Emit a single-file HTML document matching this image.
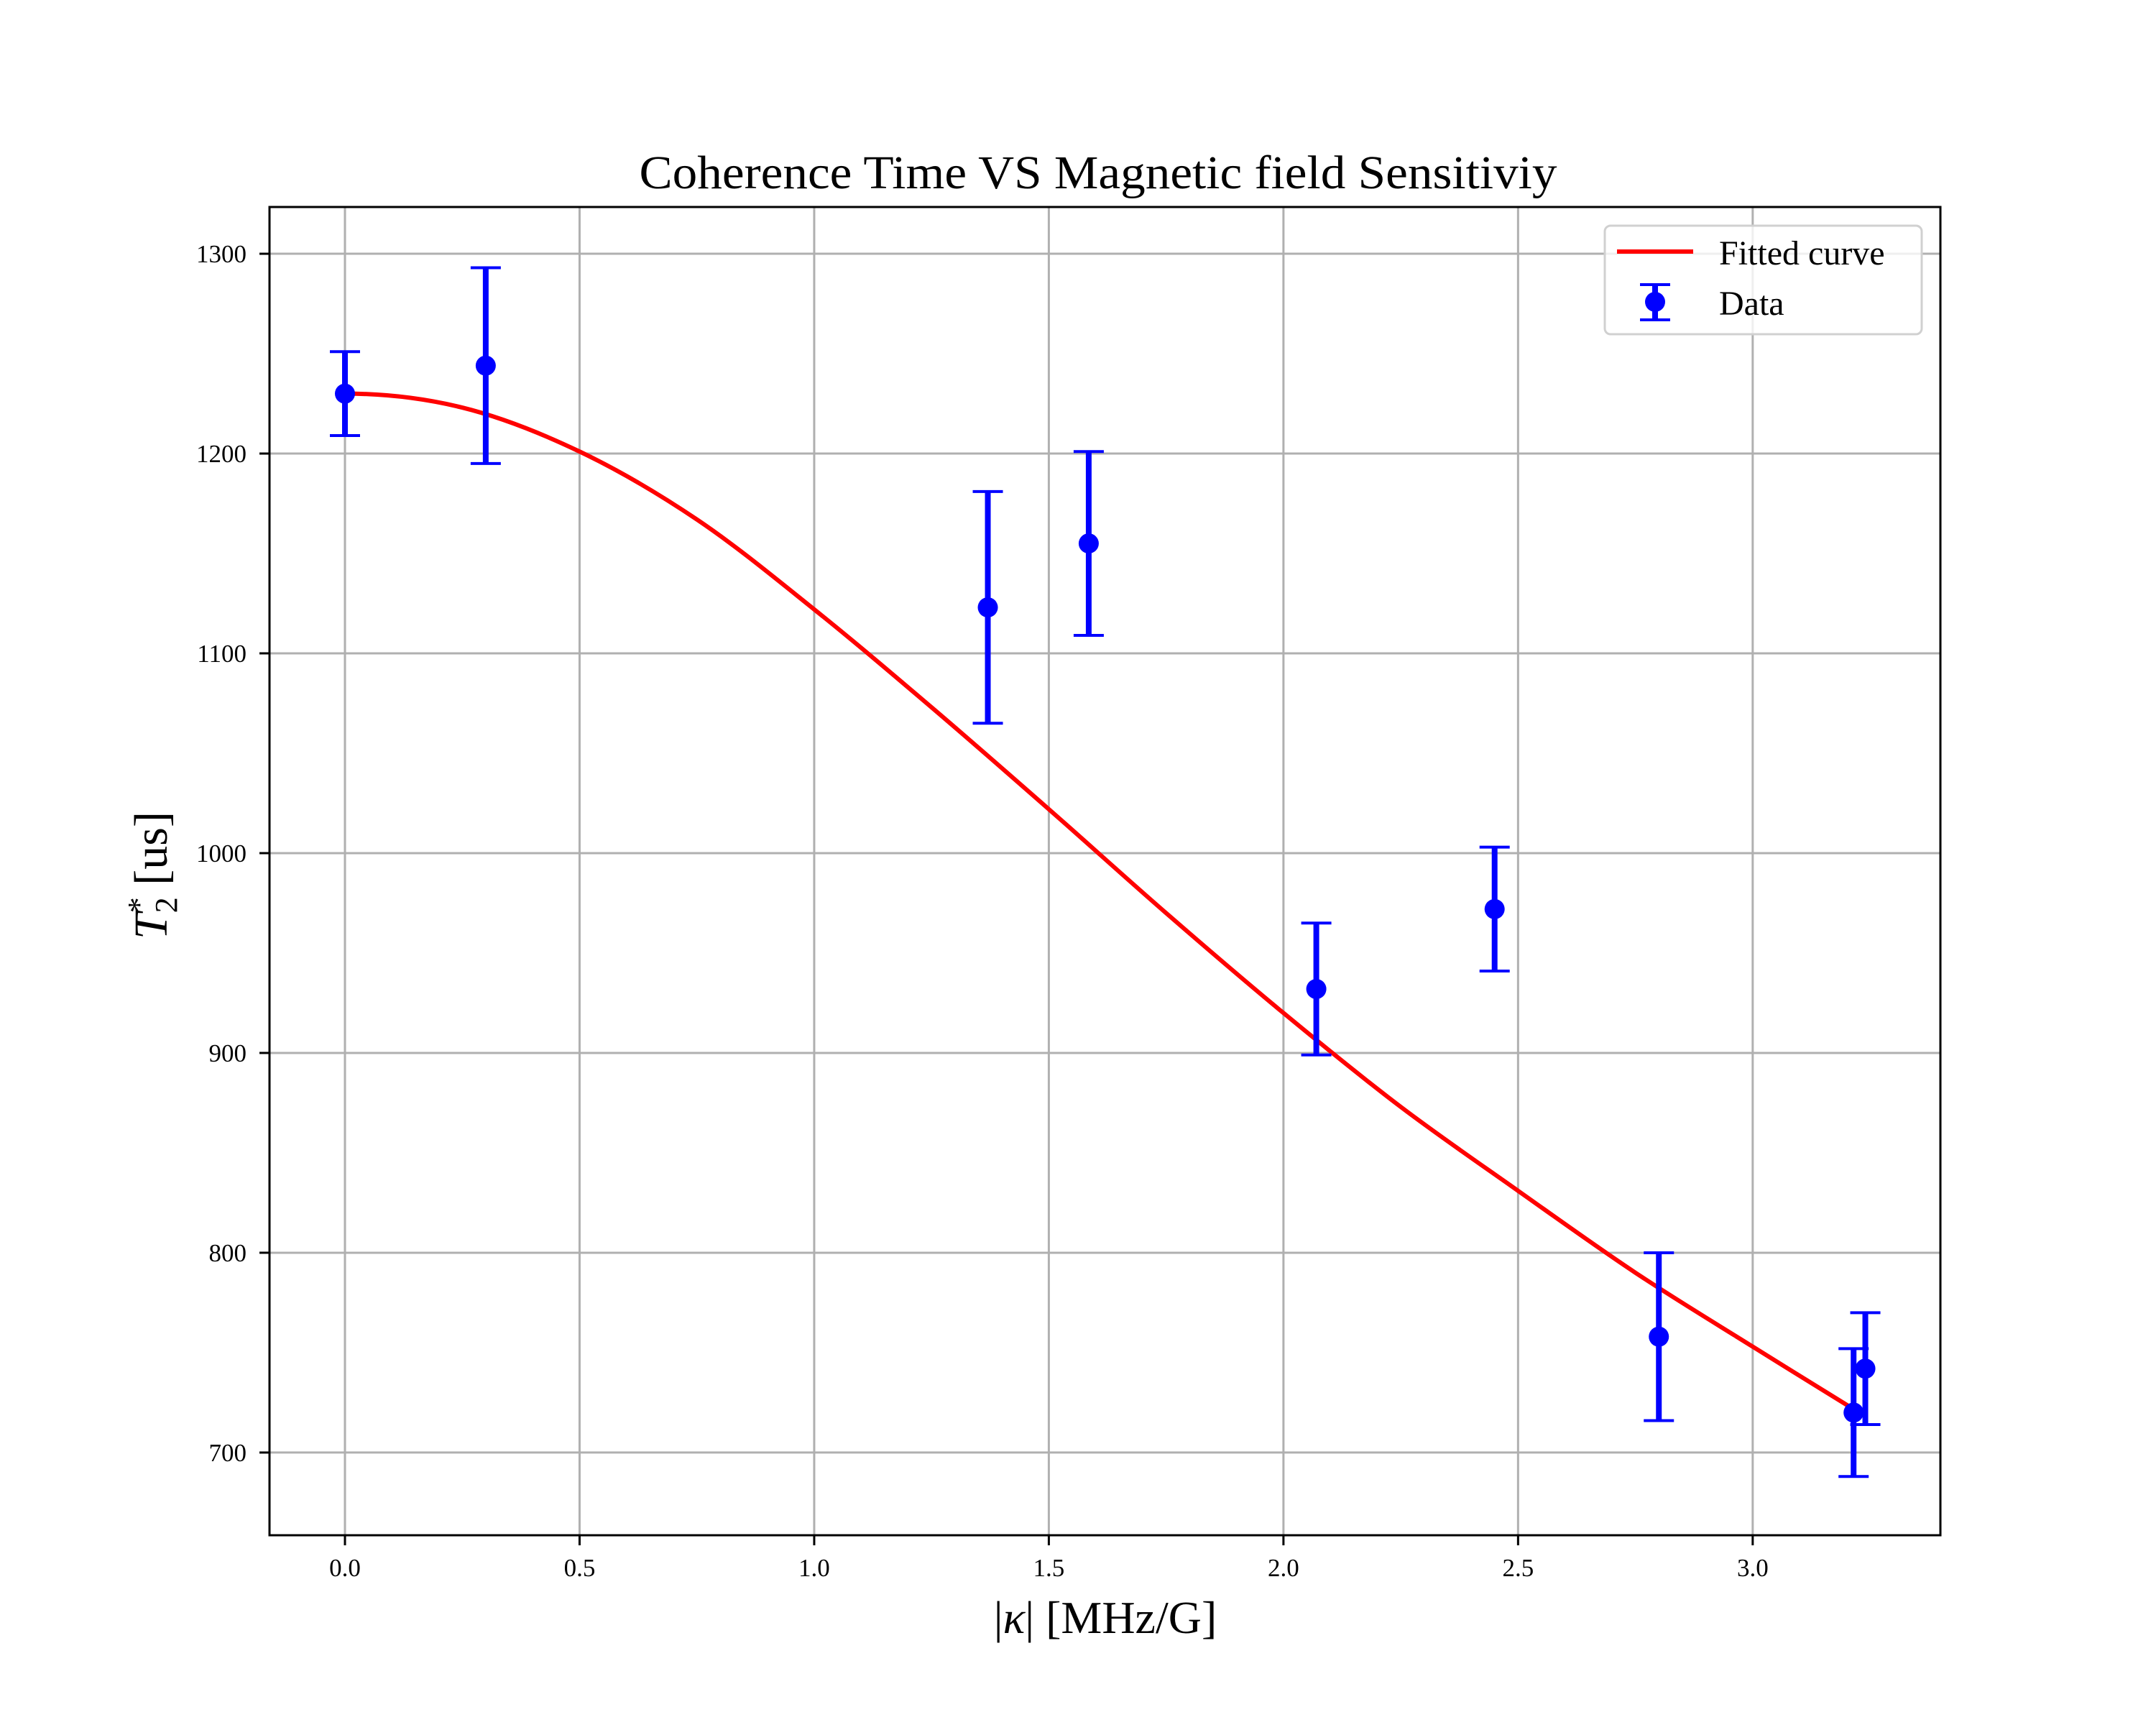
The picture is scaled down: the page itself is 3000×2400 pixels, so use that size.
<!DOCTYPE html>
<html><head><meta charset="utf-8"><style>
html,body{margin:0;padding:0;background:#fff;}
svg{display:block;font-family:"Liberation Serif","DejaVu Serif",serif;}
</style></head><body>
<svg id="chart" width="3000" height="2400" viewBox="0 0 3000 2400">
<rect width="3000" height="2400" fill="#fff"/>
<g id="grid"></g>
<g id="curve"></g>
<g id="points"></g>
<rect x="375" y="288" width="2325" height="1848" fill="none" stroke="#000" stroke-width="3"/>
<g id="ticks"></g>
<text x="1528" y="262" font-size="66" text-anchor="middle" textLength="1277" lengthAdjust="spacingAndGlyphs">Coherence Time VS Magnetic field Sensitiviy</text>
<text x="1538" y="2272" font-size="64" text-anchor="middle">|<tspan font-style="italic">κ</tspan>| [MHz/G]</text>
<text transform="translate(232,1218) rotate(-90)" font-size="66" text-anchor="middle"><tspan font-style="italic">T</tspan><tspan font-size="44" dy="14">2</tspan><tspan font-size="44" dx="-22" dy="-38">*</tspan><tspan dy="24"> [us]</tspan></text>
<g>
<rect x="2233" y="314" width="441" height="151" rx="8" fill="#fff" fill-opacity="0.8" stroke="#d0d0d0" stroke-width="3"/>
<line x1="2250" y1="350" x2="2356" y2="350" stroke="#f00" stroke-width="6"/>
<text x="2392" y="368" font-size="48">Fitted curve</text>
<line x1="2303" y1="396" x2="2303" y2="445" stroke="#00f" stroke-width="8"/>
<line x1="2282" y1="396" x2="2324" y2="396" stroke="#00f" stroke-width="4"/>
<line x1="2282" y1="445" x2="2324" y2="445" stroke="#00f" stroke-width="4"/>
<circle cx="2303" cy="420" r="14" fill="#00f"/>
<text x="2392" y="438" font-size="48">Data</text>
</g>
</svg>
<script>
const xData = [0.0, 0.30, 1.37, 1.585, 2.07, 2.45, 2.80, 3.215, 3.24];
const yData = [1230, 1244, 1123, 1155, 932, 972, 758, 720, 742];
const yErr = [21, 49, 58, 46, 33, 31, 42, 32, 28];
const fitX = [0, 0.25, 0.5, 0.75, 1.0, 1.25, 1.5, 1.75, 2.0, 2.25, 2.5, 2.75, 3.0, 3.22];
const fitY = [1230, 1223, 1201, 1167, 1122, 1073, 1022, 970, 920, 873, 831, 790, 753, 721];
const xTicks = [0.0, 0.5, 1.0, 1.5, 2.0, 2.5, 3.0];
const xTickLabels = ["0.0", "0.5", "1.0", "1.5", "2.0", "2.5", "3.0"];
const yTicks = [700, 800, 900, 1000, 1100, 1200, 1300];
const yTickLabels = ["700", "800", "900", "1000", "1100", "1200", "1300"];

const L = 375, R = 2700, T = 288, B = 2136;
const xMin = -0.1608, xMax = 3.4, yMin = 658.6, yMax = 1323.4;
function sx(v){ return L + (v - xMin) / (xMax - xMin) * (R - L); }
function sy(v){ return B - (v - yMin) / (yMax - yMin) * (B - T); }
const NS = "http://www.w3.org/2000/svg";
function mk(tag, attrs, parent){
  const e = document.createElementNS(NS, tag);
  for (const k in attrs) e.setAttribute(k, attrs[k]);
  parent.appendChild(e);
  return e;
}
const grid = document.getElementById('grid');
const ticks = document.getElementById('ticks');
xTicks.forEach((v, i) => {
  const x = sx(v);
  const g = mk('line', {x1:x, y1:T, x2:x, y2:B, stroke:'#b0b0b0', 'stroke-width':3}, grid);
  
  
  const t = mk('line', {x1:x, y1:B, x2:x, y2:B+14, stroke:'#000', 'stroke-width':3}, ticks);
  
  
  const lb = mk('text', {x:x, y:B+57, 'font-size':35, 'text-anchor':'middle'}, ticks);
  lb.textContent = xTickLabels[i];
  
  
});
yTicks.forEach((v, i) => {
  const y = sy(v);
  const g = mk('line', {x1:L, y1:y, x2:R, y2:y, stroke:'#b0b0b0', 'stroke-width':3}, grid);
  
  
  const t = mk('line', {x1:L-14, y1:y, x2:L, y2:y, stroke:'#000', 'stroke-width':3}, ticks);
  
  
  const lb = mk('text', {x:L-32, y:y+12, 'font-size':35, 'text-anchor':'end'}, ticks);
  lb.textContent = yTickLabels[i];
  
  
});
// fitted curve (Catmull-Rom smoothing, flat start)
const pts = fitX.map((v, i) => [sx(v), sy(fitY[i])]);
let d = 'M' + pts[0][0] + ',' + pts[0][1];
for (let i = 0; i < pts.length - 1; i++) {
  const p1 = pts[i], p2 = pts[i+1];
  const p0 = i === 0 ? [2*p1[0]-p2[0], p2[1]] : pts[i-1];
  const p3 = pts[Math.min(pts.length-1, i+2)];
  const c1x = p1[0] + (p2[0]-p0[0])/6, c1y = p1[1] + (p2[1]-p0[1])/6;
  const c2x = p2[0] - (p3[0]-p1[0])/6, c2y = p2[1] - (p3[1]-p1[1])/6;
  d += ' C' + c1x + ',' + c1y + ' ' + c2x + ',' + c2y + ' ' + p2[0] + ',' + p2[1];
}
const curve = mk('path', {d:d, fill:'none', stroke:'#f00', 'stroke-width':6}, document.getElementById('curve'));


// data points with error bars
const pg = document.getElementById('points');
xData.forEach((v, i) => {
  const x = sx(v), y = sy(yData[i]), yt = sy(yData[i] + yErr[i]), yb = sy(yData[i] - yErr[i]);
  const g = mk('g', {}, pg);
  
  
  const bar = mk('line', {x1:x, y1:yt, x2:x, y2:yb, stroke:'#00f', 'stroke-width':8}, g);
  
  
  const c1 = mk('line', {x1:x-21, y1:yt, x2:x+21, y2:yt, stroke:'#00f', 'stroke-width':4}, g);
  
  
  const c2 = mk('line', {x1:x-21, y1:yb, x2:x+21, y2:yb, stroke:'#00f', 'stroke-width':4}, g);
  
  
  const m = mk('circle', {cx:x, cy:y, r:14, fill:'#00f'}, g);
  
  
});
</script>
</body></html>
